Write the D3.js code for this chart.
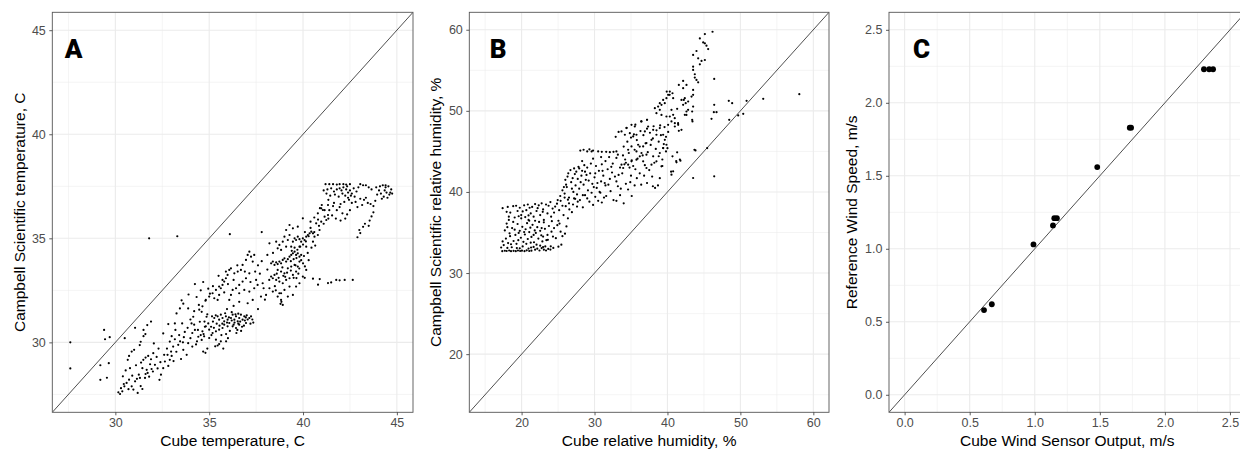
<!DOCTYPE html>
<html>
<head>
<meta charset="utf-8">
<script src="https://cdn.jsdelivr.net/npm/d3@7"></script>
<style>
  body { margin: 0; background: #fff; }
  svg { display: block; }
  .tick text { fill: #4d4d4d; font-size: 12.5px; font-family: "Liberation Sans", Arial, sans-serif; }
  .tick line { stroke: #333; stroke-width: 0.8; }
  .axis-title { font-family: "Liberation Sans", Arial, sans-serif; font-size: 15.5px; fill: #000; }
  .panel-letter { font-family: "Roboto", "Liberation Sans", sans-serif; font-weight: 900; font-size: 26px; fill: #000; }
</style>
</head>
<body>
<div id="chart"></div>
<script>
// Panel A: Cube temperature vs Campbell Scientific temperature
const tempPoints = [
  [27.6,30.0],[27.6,28.75],[29.4,30.6],[29.45,30.15],[29.7,30.25],[29.2,28.9],[29.65,29.0],[29.2,28.2],[29.55,28.3],[30.5,30.2],
  [31.05,30.7],[31.8,35.0],[33.3,35.1],[36.1,35.2],[37.8,35.3],
  [30.16,27.6],[30.25,27.52],[30.37,27.65],[30.48,27.89],[30.6,28.05],[30.73,28.21],[30.87,27.89],[30.96,27.73],[31.05,28.13],[31.19,27.57],
  [31.31,28.29],[31.44,27.76],[31.58,28.29],[31.61,28.48],[31.72,28.53],[31.44,28.76],[31.37,29.03],[31.49,29.16],[31.61,29.27],[31.75,29.35],
  [31.9,29.19],[32.02,29.48],[32.11,28.92],[31.93,28.72],[31.67,28.68],[31.0,29.64],[30.87,29.56],[30.73,29.35],[30.66,29.16],[30.55,28.65],
  [30.78,28.76],[30.4,28.37],[31.9,31.0],[31.7,30.83],[31.5,30.6],[31.6,30.4],[31.5,30.3],[31.35,30.03],[31.3,29.87],[30.3,27.8],
  [30.9,28.4],[31.1,28.9],[31.25,28.45],[31.85,28.95],[32.2,29.3],[32.3,29.7],[32.05,29.95],
  [32.43,28.45],[32.55,28.76],[32.64,29.08],[32.82,28.87],[32.9,29.16],[32.78,29.4],[32.97,29.56],[33.08,29.8],[32.9,30.04],[33.17,30.15],
  [33.35,29.88],[33.62,29.64],[33.8,29.4],[33.88,29.96],[33.4,30.35],[32.55,30.43],[32.82,30.88],[33.17,30.91],[33.56,30.91],[33.26,31.39],
  [33.44,31.63],[33.62,31.86],[33.53,32.02],[33.88,31.63],[34.06,30.91],[34.15,31.23],[34.24,30.6],[34.42,30.27],[34.6,30.12],[34.68,29.56],
  [34.24,32.8],[34.68,32.9],[34.33,32.18],[34.95,32.58],[35.04,32.34],[34.6,31.47],[34.86,31.23],[34.95,30.91],[34.77,30.75],[34.5,30.99],
  [35.12,30.35],[33.0,30.3],[33.7,30.5],[34.0,30.2],[34.3,29.9],[33.5,29.2],[34.1,29.8],[34.4,30.6],[34.7,30.4],[34.2,31.5],
  [34.45,31.8],[34.0,31.1],[33.9,32.3],[34.8,32.0],[34.55,32.5],[33.2,30.6],[34.9,29.7],[34.8,29.5],
  [30.45,28.0],[30.7,27.75],[31.15,28.25],[31.35,27.9],[31.8,28.35],[32.0,28.6],[32.25,28.75],[32.4,29.05],[32.6,29.4],[32.75,29.7],
  [33.0,29.35],[33.25,29.55],[33.45,30.05],[33.65,30.25],[33.85,30.7],[34.1,30.45],[34.35,30.05],[34.55,30.35],[34.75,31.0],[34.9,31.35],
  [33.1,29.1],[32.35,28.2],[33.6,30.0],[34.2,30.85],
  [35.27,31.17],[35.45,31.25],[35.53,31.09],[35.62,31.33],[35.71,31.17],[35.8,31.01],[35.89,31.25],[35.98,31.09],[36.07,30.93],[36.16,31.17],
  [36.25,31.33],[36.34,31.09],[36.43,31.25],[36.52,31.01],[36.6,31.17],[36.69,31.33],[36.78,31.09],[36.87,31.25],[36.96,30.93],[37.14,31.17],
  [37.23,31.25],[36.25,30.77],[36.43,30.69],[36.6,30.85],[35.98,30.77],[35.71,30.69],[35.53,30.61],[35.36,30.53],[35.18,30.45],[35.0,30.61],
  [34.82,30.77],[34.64,30.53],[34.73,30.29],[35.0,30.21],[35.36,30.13],[35.53,29.92],[35.32,29.81],[35.62,30.05],[35.9,30.4],[36.1,30.55],
  [36.35,30.95],[36.55,31.38],[36.9,31.05],[37.0,31.3],[37.3,31.1],[37.35,30.95],[36.75,30.75],[35.8,30.85],[35.4,30.9],[35.2,31.0],
  [35.1,30.75],[36.2,31.45],[35.65,30.35],[36.0,30.2],[35.9,30.05],[35.75,29.7],[35.45,29.85],[36.45,30.45],[36.7,30.55],
  [35.35,31.3],[35.55,30.8],[35.85,31.4],[36.05,31.2],[36.3,30.85],[36.5,30.6],[36.65,31.0],[36.85,30.8],[37.05,31.1],[36.2,31.05],
  [35.95,30.95],[35.7,30.9],[36.4,31.35],[36.95,31.2],[37.2,30.9],[35.25,30.7],[35.15,31.25],[36.55,30.9],
  [34.47,31.57],[34.64,31.73],[34.82,32.04],[35.0,32.2],[35.18,32.36],[35.36,32.52],[35.53,32.28],[35.62,32.6],[35.71,32.76],[35.8,32.92],
  [35.89,33.08],[35.98,33.24],[36.07,33.48],[36.16,33.56],[35.89,33.4],[35.71,33.0],[35.53,32.68],[35.27,32.12],[35.45,32.04],[36.34,33.32],
  [36.52,33.4],[36.69,33.48],[36.78,33.72],[36.96,33.96],[37.05,34.2],[37.14,34.36],[37.23,34.12],[37.32,33.88],[37.4,34.2],[37.14,33.32],
  [36.96,33.08],[36.78,32.92],[36.6,32.76],[36.43,32.6],[36.25,32.52],[36.16,32.28],[36.07,32.04],[36.6,32.36],[36.87,32.52],[37.14,32.44],
  [37.4,32.6],[37.58,32.76],[37.85,32.84],[37.76,32.2],[38.03,32.28],[38.21,32.6],[38.39,32.44],[38.74,32.36],[38.83,32.04],[38.92,31.8],
  [38.65,32.2],[37.32,32.04],[37.05,31.88],[36.3,31.75],[35.95,31.6],[36.6,31.95],[37.6,31.6],[37.97,32.05],[37.6,33.7],[37.7,33.3],[37.5,33.0],
  [35.2,32.7],[35.5,33.2],[35.8,32.4],[36.0,32.8],[36.3,33.0],[36.5,33.7],[36.9,33.4],[37.2,32.9],[37.45,33.4],[37.8,33.9],
  [38.1,34.2],[38.4,34.3],[38.1,33.5],[38.2,33.0],[37.9,32.6],[38.55,32.5],[38.95,33.2],[39.15,33.35],[39.35,33.45],[39.5,33.1],
  [39.75,33.3],[40.1,33.65],[40.3,33.95],[40.45,34.55],[40.65,34.65],
  [38.3,33.8],[38.39,33.88],[38.48,33.72],[38.57,33.84],[38.65,33.76],[38.74,33.88],[38.83,33.8],[38.92,33.96],[39.01,34.04],[39.1,33.88],
  [39.19,34.0],[39.28,34.12],[39.37,34.2],[39.46,34.28],[39.55,34.36],[39.63,34.2],[39.72,34.28],[39.81,34.12],[39.9,34.2],[38.3,33.16],
  [38.39,33.08],[38.48,33.24],[38.57,33.0],[38.74,32.92],[38.92,32.84],[39.1,33.0],[39.28,33.08],[39.01,33.32],[38.83,33.4],[38.65,33.48],
  [39.19,33.56],[39.37,33.64],[39.55,33.72],[39.72,33.64],[39.81,33.88],[39.63,33.4],[39.46,33.24],[39.28,32.68],[39.01,32.52],[38.83,32.36],
  [39.19,32.2],[39.46,32.28],[39.63,32.68],[39.81,32.84],[39.99,33.16],[40.17,33.48],[38.6,33.3],[38.9,33.6],[39.35,33.9],[38.7,33.1],
  [39.05,33.15],[38.5,32.7],[38.8,31.85],[38.85,31.95],
  [39.65,33.09],[40.09,33.1],[40.53,33.06],[40.89,33.04],[40.8,32.77],[41.33,32.85],[41.5,32.88],[41.77,33.0],[41.95,32.98],[42.22,33.0],[42.65,33.0],
  [38.92,34.84],[39.01,35.08],[39.19,34.92],[39.28,35.16],[39.46,34.84],[39.55,35.0],[39.63,34.92],[39.72,35.08],[39.81,34.96],[39.9,34.84],
  [39.99,35.0],[40.08,34.92],[40.17,35.08],[40.26,35.16],[40.35,35.24],[40.44,35.32],[40.53,35.24],[39.1,35.4],[39.28,35.64],[39.46,35.48],
  [39.72,35.56],[39.99,35.96],[38.57,34.84],[38.74,34.68],[38.65,34.52],[38.83,34.44],[38.21,34.76],[39.1,34.6],[39.37,34.6],[39.81,34.6],
  [40.17,34.6],[40.53,34.84],[40.61,35.08],[40.79,35.16],[40.88,35.4],[40.7,35.72],[40.97,35.8],[41.15,36.04],[41.24,35.88],[41.33,36.12],
  [40.97,36.44],[41.06,36.36],[41.33,36.6],[40.79,36.2],
  [40.1,35.3],[40.4,35.8],[40.6,36.0],[40.8,35.9],[41.4,36.35],[41.65,36.7],[41.9,37.0],[42.1,37.15],[42.35,37.5],[42.0,36.65],
  [41.1,37.3],[41.7,37.1],[42.9,36.5],[43.15,36.6],[43.85,36.8],[44.2,36.9],[44.4,37.55],[44.75,37.15],
  [41.2,37.6],[41.4,37.6],[41.6,37.6],[41.8,37.58],[41.95,37.6],[42.15,37.6],[42.3,37.58],[42.5,37.6],[41.3,37.35],[41.5,37.4],
  [41.25,37.15],[41.45,37.05],[41.35,36.85],[41.65,37.25],[41.8,37.35],[41.95,37.4],[42.05,37.3],[42.15,37.45],[42.3,37.35],[42.4,37.2],
  [42.5,37.3],[42.6,37.15],[42.7,37.4],[42.55,37.05],[42.4,36.95],[42.25,37.05],[42.75,37.0],[42.85,37.25],[42.95,37.45],[43.05,37.6],
  [43.2,37.55],[43.35,37.55],[43.5,37.45],[43.65,37.35],[42.2,36.75],[42.45,36.85],[42.6,36.7],[42.8,36.75],[43.05,36.9],[43.25,36.85],
  [43.45,36.7],[43.6,36.65],[43.75,36.55],[43.35,36.95],[43.9,37.45],[44.1,37.5],[44.25,37.55],[44.4,37.45],[44.55,37.5],[44.7,37.35],
  [44.6,37.1],[44.45,37.2],[44.3,37.0],[44.15,37.15],[44.5,36.95],[44.65,37.2],[44.05,37.3],[43.95,37.1],[44.35,37.3],
  [41.0,36.6],[41.15,36.35],[40.9,36.45],[41.6,36.55],[41.8,36.35],[41.95,36.5],[42.1,36.2],[41.55,36.1],[41.75,35.95],[42.0,35.85],
  [42.25,35.95],[42.35,36.15],[42.5,36.35],[41.35,35.95],[41.1,35.7],[40.85,35.6],[40.6,35.3],[40.4,35.5],[40.3,35.1],
  [43.0,35.4],[43.2,35.55],[43.3,35.7],[43.55,35.85],[43.65,36.05],[43.75,36.25],[42.9,35.05],[43.05,35.25],[43.5,35.6],
  [39.4,34.4],[39.55,34.55],[39.7,34.45],[39.85,34.6],[40.0,34.7],[40.15,34.85],[39.5,34.0],[39.65,34.05],[39.9,33.95],[40.05,34.15],
  [40.25,34.3],[39.6,33.7],[39.8,33.55],[40.0,33.8]
];

// Panel B: Cube relative humidity vs Campbell Scientific relative humidity
const humidityPoints = [
  [17.35,32.7],[17.7,32.75],[17.95,32.72],[18.3,32.78],[18.55,32.7],[18.9,32.74],[19.2,32.7],[19.5,32.78],[19.8,32.72],[20.05,32.76],
  [20.4,32.7],[20.7,32.8],[21.05,32.72],[21.35,32.76],[21.85,32.88],[22.15,33.0],[22.45,32.78],[22.75,33.08],[23.05,32.88],[23.35,32.78],
  [23.65,32.98],[23.95,32.9],[24.35,33.1],[25.05,33.25],[25.45,33.5],[18.05,33.1],[18.65,33.18],[19.35,33.08],[20.15,33.28],[20.95,33.02],
  [21.65,33.22],[22.55,33.38],[23.25,33.28],[17.2,33.15],[19.75,33.05],[21.3,33.15],[22.95,33.2],[24.0,33.3],
  [17.55,33.45],[17.85,34.25],[18.15,33.7],[18.42,34.55],[18.9,33.95],[19.15,34.7],[19.55,34.05],[19.9,34.35],[20.25,33.85],[20.45,34.75],
  [20.85,34.2],[21.05,35.05],[21.35,34.45],[21.7,33.8],[21.95,34.95],[22.3,34.25],[22.55,35.2],[22.95,34.5],[23.2,35.45],[23.55,34.7],
  [23.75,35.8],[24.1,35.1],[24.45,35.55],[24.9,35.9],[25.35,35.1],[26.15,35.75],[17.7,35.25],[18.05,35.65],[18.35,34.9],[18.7,35.55],
  [19.05,35.35],[19.45,36.05],[19.75,35.2],[20.1,35.7],[20.55,35.4],[20.75,36.15],[21.2,35.6],[21.5,35.95],[21.8,35.25],[22.15,35.65],
  [22.4,36.3],[22.75,35.55],[23.05,36.25],[18.85,36.3],[19.95,36.75],[20.95,36.55],[21.85,36.45],[25.6,34.55],[24.7,34.3],[25.95,34.85],
  [17.4,33.9],[18.55,33.55],[19.3,33.6],[20.65,33.6],[21.25,33.75],[22.05,33.5],[22.85,33.9],[23.6,34.1],[24.3,34.5],[19.6,34.95],
  [20.35,35.05],[21.65,34.7],[23.4,34.05],[22.7,34.65],[18.25,36.55],[17.95,36.1],[24.15,36.4],[25.2,36.1],
  [17.4,38.0],[17.95,37.55],[18.25,36.95],[18.45,37.45],[18.85,38.25],[19.05,36.85],[19.45,37.65],[19.75,38.05],[19.95,37.15],[20.35,38.35],
  [20.65,37.75],[20.85,38.45],[21.25,37.35],[21.45,38.15],[21.85,38.5],[22.05,37.65],[22.35,38.35],[22.75,38.6],[22.95,37.85],[23.35,38.45],
  [23.55,37.35],[23.95,38.75],[24.25,37.95],[24.45,37.45],[24.85,38.55],[25.15,37.75],[25.35,38.9],[25.75,37.15],[26.05,38.25],[26.35,39.05],
  [26.55,37.85],[23.05,36.55],[24.05,36.95],[25.05,36.45],[26.35,36.75],[22.55,37.15],[21.05,36.45],[27.05,38.45],[27.35,39.15],
  [18.1,38.15],[19.25,38.3],[20.15,37.6],[21.65,36.95],[22.2,38.0],[23.7,38.3],[24.6,38.2],[19.6,37.0],[20.5,36.9],[22.9,37.55],
  [25.6,38.3],[26.9,37.5],[27.7,38.8],[25.9,39.3],[24.95,39.0],[21.1,38.05],[20.95,37.1],
  [25.3,39.5],[25.6,40.2],[25.9,39.8],[26.2,40.6],[26.5,39.3],[26.8,41.2],[27.1,40.0],[27.4,40.8],[27.7,41.6],[27.9,40.4],
  [28.2,42.0],[28.5,40.9],[28.8,41.5],[29.1,40.2],[29.4,42.3],[29.7,41.0],[30.0,41.8],[30.3,40.5],[30.6,42.6],[30.9,41.3],
  [31.2,42.0],[31.5,40.8],[31.8,42.8],[32.1,41.6],[32.4,42.4],[26.0,41.5],[26.4,42.3],[26.7,42.7],[27.2,42.9],[27.5,42.5],
  [27.8,43.1],[28.3,42.6],[28.6,43.3],[29.0,43.0],[29.5,43.5],[30.2,43.2],[31.0,43.4],[26.5,38.6],[27.2,39.2],[28.0,39.0],
  [28.7,39.6],[29.3,38.8],[30.1,39.4],[30.8,39.9],[31.6,39.5],[32.2,40.1],[28.4,38.1],[29.8,38.4],[31.0,38.7],[32.6,39.0],
  [27.6,38.2],[33.0,38.9],[33.5,39.6],[34.0,38.6],[33.6,40.4],[34.3,41.0],[33.0,41.3],[33.3,42.1],[34.6,40.3],[35.1,39.5],
  [35.5,40.8],[35.0,42.0],[26.1,40.9],[27.0,41.7],[28.9,42.1],[29.9,40.6],[31.4,41.1],
  [25.8,40.6],[26.3,41.9],[26.9,40.4],[27.3,42.2],[27.6,39.7],[28.1,41.2],[28.4,39.6],[28.7,42.5],[29.2,41.4],[29.6,39.9],
  [30.1,42.3],[30.4,41.1],[30.7,40.0],[31.1,42.6],[31.3,39.3],[31.9,40.9],[32.3,43.1],[32.8,41.9],[33.2,40.7],[33.8,42.3],
  [34.1,43.4],[34.9,41.2],[35.3,43.2],[35.8,41.7],[36.4,40.9],[36.8,42.0],[37.2,41.1],[29.0,39.2],[30.5,38.9],[27.9,42.9],
  [28.3,43.8],[29.8,44.1],[31.5,43.8],[33.2,44.6],[34.2,44.0],[30.9,44.3],[32.0,44.3],
  [28.05,45.1],[28.5,45.2],[29.0,45.0],[29.3,45.25],[29.6,45.0],[29.8,45.1],[30.5,45.0],[31.0,44.95],[31.6,44.95],[32.1,44.9],[32.6,44.95],[33.0,45.0],
  [32.5,43.5],[33.0,44.2],[33.5,43.0],[33.9,44.5],[34.3,43.6],[34.7,44.8],[35.1,43.9],[35.5,45.2],[35.9,44.1],[36.2,45.6],
  [36.6,44.5],[37.0,46.0],[37.3,44.9],[37.7,45.8],[38.0,46.6],[38.4,45.3],[38.8,46.2],[39.1,47.0],[39.5,45.9],[39.8,46.8],
  [40.1,47.4],[34.0,45.6],[34.5,46.2],[35.0,46.7],[35.4,47.1],[35.8,46.4],[36.3,47.5],[36.7,47.0],[37.2,47.8],[37.6,47.3],
  [38.1,48.1],[38.5,47.6],[39.0,48.2],[39.6,48.0],[40.0,45.4],[36.9,43.3],[37.5,42.7],[38.2,43.6],[38.8,44.4],[39.3,44.0],
  [39.8,45.0],[32.9,46.8],[33.3,47.4],[34.4,47.9],[35.6,48.3],[36.4,48.7],[37.2,48.9],[36.2,42.3],[35.6,42.8],[34.8,43.0],
  [38.7,40.8],[37.9,41.9],[39.3,43.2],[38.3,40.5],[38.95,41.7],[38.0,40.7],
  [39.9,52.38],[40.3,51.97],[40.78,51.56],[38.95,50.94],[39.41,51.35],[38.72,50.53],[38.27,50.33],[38.49,49.71],[39.18,49.5],[39.86,49.3],
  [40.55,50.12],[41.0,49.1],[41.46,48.48],[42.6,49.5],[42.83,50.12],[42.24,51.35],[42.5,50.94],[43.3,51.76],[37.2,48.9],[36.44,48.69],
  [35.52,48.07],[35.07,48.28],[34.38,47.87],[33.7,47.46],[34.16,47.05],[34.84,47.25],[35.3,46.84],[35.75,47.05],[36.9,47.46],[37.35,48.07],
  [38.04,47.66],[38.49,47.05],[38.95,47.87],[39.41,47.05],[39.64,46.43],[37.81,46.43],[37.12,46.02],[36.67,45.61],[35.98,45.82],[35.07,45.61],
  [34.61,45.2],[35.75,45.0],[36.44,44.8],[37.12,44.6],[38.04,44.39],[38.95,44.8],[39.41,45.41],[39.86,45.82],[38.49,43.77],[37.81,43.36],
  [37.12,42.95],[36.67,43.77],[36.21,44.39],[35.75,43.98],[35.07,43.77],[34.61,43.36],[33.93,42.95],[33.7,43.36],
  [46.18,59.75],[45.13,59.47],[44.44,58.93],[44.9,58.44],[45.13,58.32],[45.35,58.03],[45.58,57.62],[43.98,57.38],[43.52,56.89],[44.21,56.48],
  [44.67,56.15],[45.13,56.27],[44.44,55.74],[43.52,55.45],[43.52,55.04],[43.75,54.51],[43.75,54.1],[43.98,53.81],[44.21,53.52],[46.41,53.93],
  [41.56,53.2],[42.15,53.69],[42.61,53.2],[42.15,52.79],[43.52,52.58],[43.52,51.97],[40.32,52.38],[40.09,51.97],[40.69,52.17],[39.86,51.56],
  [39.63,50.94],[39.18,50.74],[38.95,50.12],[41.92,51.35],[42.38,51.56],[42.84,51.15],[42.15,50.74],[42.61,49.92],[42.38,49.51],[43.52,50.53],
  [43.39,49.92],[41.33,50.25],[40.78,49.51],[40.32,49.3],[40.55,48.69],[41.01,48.48],[40.09,48.28],[41.47,48.28],[41.56,47.54],[41.92,47.66],
  [41.01,48.07],[43.39,48.89],[43.43,48.69],
  [46.41,50.74],[46.36,49.84],[48.41,51.23],[48.87,50.94],[46.73,49.84],[46.04,49.02],[48.47,48.89],[49.7,49.43],[50.39,49.63],[50.85,51.23],
  [53.13,51.48],[58.08,52.05],[45.45,45.41],[43.84,45.12],[46.41,41.93],[43.52,41.72],[41.33,44.88],[40.69,44.39],[41.78,43.85],[41.24,43.65],
  [40.78,42.54],[40.55,42.13],[39.18,43.16],[39.41,45.41],[43.7,45.2],[41.7,44.0],[41.2,43.8],[40.5,42.5]
];

// Panel C: wind sensor output vs reference wind speed
const windCube = [0.61, 0.67, 0.99, 1.14, 1.15, 1.17, 1.48, 1.73, 1.74, 2.30, 2.34, 2.37];
const windRef  = [0.58, 0.62, 1.03, 1.16, 1.21, 1.21, 1.56, 1.83, 1.83, 2.23, 2.23, 2.23];

// tick values and gridline values
const tempTicks = [30, 35, 40, 45];
const tempMinor = [27.5, 32.5, 37.5, 42.5];
const humidTicks = [20, 30, 40, 50, 60];
const humidMinor = [15, 25, 35, 45, 55];
const windTicks = [0, 0.5, 1.0, 1.5, 2.0, 2.5];
const windMinor = [0.25, 0.75, 1.25, 1.75, 2.25];

const width = 1240, height = 452;
const plotTop = 12.3, plotBottom = 412.3;

const svg = d3.select("#chart").append("svg")
  .attr("width", width)
  .attr("height", height);

function drawPanel(opt) {
  const x = d3.scaleLinear().domain(opt.domain).range([opt.left, opt.right]);
  const y = d3.scaleLinear().domain(opt.domain).range([plotBottom, plotTop]);
  const g = svg.append("g");

  const clipId = "clip-" + opt.letter;
  g.append("clipPath").attr("id", clipId)
    .append("rect")
    .attr("x", opt.left).attr("y", plotTop)
    .attr("width", opt.right - opt.left).attr("height", plotBottom - plotTop);

  const plot = g.append("g").attr("clip-path", `url(#${clipId})`);

  // gridlines, minor then major
  [[opt.minor, 0.55], [opt.ticks, 1.1]].forEach(([vals, w]) => {
    plot.selectAll(null).data(vals).enter().append("line")
      .attr("x1", d => x(d)).attr("x2", d => x(d))
      .attr("y1", plotTop).attr("y2", plotBottom)
      .attr("stroke", "#ebebeb").attr("stroke-width", w);
    plot.selectAll(null).data(vals).enter().append("line")
      .attr("x1", opt.left).attr("x2", opt.right)
      .attr("y1", d => y(d)).attr("y2", d => y(d))
      .attr("stroke", "#ebebeb").attr("stroke-width", w);
  });

  // 1:1 line
  plot.append("line")
    .attr("x1", x(opt.domain[0])).attr("y1", y(opt.domain[0]))
    .attr("x2", x(opt.domain[1])).attr("y2", y(opt.domain[1]))
    .attr("stroke", "#222").attr("stroke-width", 0.8);

  plot.selectAll(null).data(opt.points).enter().append("circle")
    .attr("cx", d => x(d[0]))
    .attr("cy", d => y(d[1]))
    .attr("r", opt.r)
    .attr("fill", "#000");

  // panel border
  g.append("rect")
    .attr("x", opt.left).attr("y", plotTop)
    .attr("width", opt.right - opt.left).attr("height", plotBottom - plotTop)
    .attr("fill", "none").attr("stroke", "#555").attr("stroke-width", 0.9);

  const xAxis = d3.axisBottom(x).tickValues(opt.ticks).tickFormat(opt.fmt).tickSize(3).tickPadding(3);
  const yAxis = d3.axisLeft(y).tickValues(opt.ticks).tickFormat(opt.fmt).tickSize(3).tickPadding(3.5);

  g.append("g").attr("transform", `translate(0,${plotBottom})`).call(xAxis)
    .call(a => a.select(".domain").remove());
  g.append("g").attr("transform", `translate(${opt.left},0)`).call(yAxis)
    .call(a => a.select(".domain").remove());

  g.append("text").attr("class", "axis-title")
    .attr("x", (opt.left + opt.right) / 2)
    .attr("y", 446)
    .attr("text-anchor", "middle")
    .text(opt.xTitle);

  g.append("text").attr("class", "axis-title")
    .attr("transform", `translate(${opt.left - opt.yTitleOffset},${(plotTop + plotBottom) / 2}) rotate(-90)`)
    .attr("text-anchor", "middle")
    .attr("dominant-baseline", "central")
    .text(opt.yTitle);

  g.append("text").attr("class", "panel-letter")
    .attr("x", opt.left + opt.letterDx)
    .attr("y", 58)
    .text(opt.letter);
}

drawPanel({
  letter: "A", left: 52.3, right: 413, domain: [26.64, 45.86],
  ticks: tempTicks, minor: tempMinor, fmt: d3.format("d"),
  points: tempPoints, r: 1.1, letterDx: 12.5, yTitleOffset: 33,
  xTitle: "Cube temperature, C", yTitle: "Campbell Scientific temperature, C"
});

drawPanel({
  letter: "B", left: 469.3, right: 829, domain: [12.83, 62.15],
  ticks: humidTicks, minor: humidMinor, fmt: d3.format("d"),
  points: humidityPoints, r: 1.1, letterDx: 20.5, yTitleOffset: 34,
  xTitle: "Cube relative humidity, %", yTitle: "Campbell Scientific relative humidity, %"
});

drawPanel({
  letter: "C", left: 889, right: 1245.6, domain: [-0.12, 2.62],
  ticks: windTicks, minor: windMinor, fmt: d3.format(".1f"),
  points: windCube.map((v, i) => [v, windRef[i]]), r: 2.9, letterDx: 24, yTitleOffset: 37.5,
  xTitle: "Cube Wind Sensor Output, m/s", yTitle: "Reference Wind Speed, m/s"
});
</script>
</body>
</html>
